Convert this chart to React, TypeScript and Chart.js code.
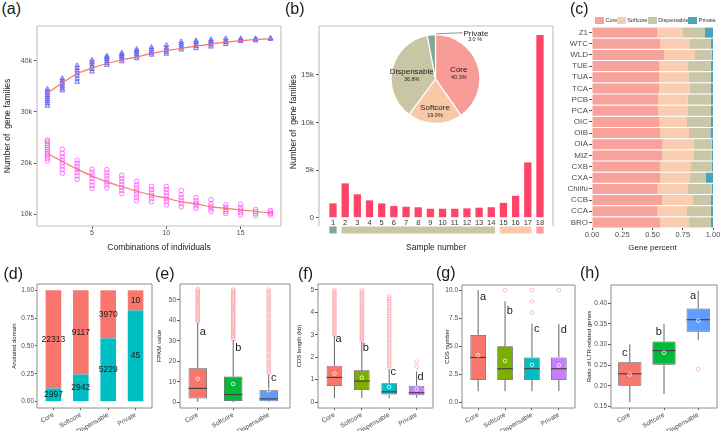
import React, { useEffect, useRef } from "react";
import { Chart, registerables } from "chart.js";

Chart.register(...registerables);

const FONT = "'Liberation Sans', Arial, Helvetica, sans-serif";
const TICK_GREY = "#4d4d4d";
const INK = "#1a1a1a";

/* ---------- (a) pan / core gene family curves ---------- */
const combinations = [2, 3, 4, 5, 6, 7, 8, 9, 10, 11, 12, 13, 14, 15, 16, 17];
const panFamiliesK = [
  [31.2, 31.7, 32.1, 32.5, 32.9, 33.3, 33.7, 34.1, 34.5],
  [34.2, 34.6, 35.0, 35.4, 35.8, 36.2, 36.6],
  [35.9, 36.5, 37.1, 37.6, 38.1, 38.6, 39.1],
  [37.9, 38.4, 38.9, 39.4, 39.8, 40.2],
  [39.2, 39.6, 40.0, 40.4, 40.7, 41.0],
  [39.9, 40.3, 40.7, 41.0, 41.3, 41.6],
  [40.5, 40.9, 41.3, 41.7, 42.0, 42.3],
  [41.2, 41.5, 41.9, 42.3, 42.7],
  [41.4, 41.8, 42.2, 42.6, 43.1],
  [42.2, 42.6, 43.0, 43.4, 43.8],
  [42.5, 42.9, 43.3, 43.7, 44.0],
  [42.8, 43.2, 43.6, 43.9, 44.2],
  [43.3, 43.7, 44.0, 44.4],
  [43.9, 44.1, 44.4],
  [44.0, 44.25, 44.4],
  [44.3, 44.5],
];
const coreFamiliesK = [
  [20.4, 20.9, 21.4, 21.8, 22.2, 22.6, 23.0, 23.4, 23.8, 24.2, 24.5],
  [18.0, 18.7, 19.4, 20.0, 20.6, 21.2, 21.9, 22.7],
  [16.8, 17.5, 18.1, 18.7, 19.3, 19.9, 20.5],
  [15.0, 15.6, 16.3, 17.0, 17.6, 18.2, 18.8],
  [15.1, 15.7, 16.3, 16.9, 17.5, 18.1, 18.7],
  [14.0, 14.6, 15.2, 15.8, 16.4, 17.0, 17.6],
  [12.6, 13.3, 13.9, 14.5, 15.1, 15.7, 16.4],
  [12.4, 13.0, 13.6, 14.2, 14.8, 15.4],
  [11.8, 12.4, 13.0, 13.6, 14.2, 14.8, 15.4],
  [11.4, 12.0, 12.6, 13.2, 13.8, 14.6],
  [11.1, 11.6, 12.1, 12.6, 13.2],
  [10.5, 11.0, 11.5, 12.0, 12.8],
  [10.1, 10.5, 10.9, 11.3, 11.8],
  [9.8, 10.3, 10.8, 11.3, 11.9],
  [9.7, 10.1, 10.5, 10.9],
  [9.8, 10.1, 10.4, 10.7],
];
const panFitK = [33.7, 35.7, 37.5, 38.6, 39.5, 40.2, 40.8, 41.5, 42.0, 42.5, 42.9, 43.3, 43.7, 44.0, 44.2, 44.4];
const coreFitK = [21.9, 20.3, 18.8, 17.45, 16.3, 15.35, 14.5, 13.7, 13.1, 12.4, 12.0, 11.4, 11.1, 10.8, 10.5, 10.2];
const aYTicks = [10000, 20000, 30000, 40000];
const aXTicks = [5, 10, 15];

/* ---------- (b) family frequency + pie ---------- */
const sampleNumbers = [1, 2, 3, 4, 5, 6, 7, 8, 9, 10, 11, 12, 13, 14, 15, 16, 17, 18];
const familyCounts = [1500, 3600, 2450, 1820, 1500, 1220, 1150, 1090, 940, 940, 940, 980, 1050, 1100, 1550, 2300, 5800, 19150];
const bYTicks = [0, 5000, 10000, 15000];
const pieNames = ["Core", "Softcore", "Dispensable", "Private"];
const piePercent = [40.3, 19.9, 36.8, 3.0];
const pieColors = ["#F89C97", "#F8C9A6", "#C9C6A6", "#7DAA96"];
const stripStart = [1, 2, 15, 18];
const stripEnd = [1, 14, 17, 18];
const stripColors = ["#7FA898", "#C9C6A6", "#F8CAAA", "#F89C9F"];

/* ---------- (c) per-accession composition ---------- */
const accessions = ["Z1", "WTC", "WLD", "TUE", "TUA", "TCA", "PCB", "PCA", "OIC", "OIB", "OIA", "MIZ", "CXB", "CXA", "Chiifu", "CCB", "CCA", "BRO"];
const coreShare = [0.537, 0.562, 0.595, 0.554, 0.554, 0.554, 0.545, 0.548, 0.554, 0.562, 0.584, 0.579, 0.562, 0.562, 0.543, 0.579, 0.537, 0.562];
const softShare = [0.215, 0.242, 0.256, 0.239, 0.245, 0.253, 0.246, 0.245, 0.231, 0.24, 0.256, 0.258, 0.256, 0.248, 0.25, 0.256, 0.248, 0.24];
const dispShare = [0.182, 0.179, 0.138, 0.188, 0.182, 0.176, 0.192, 0.19, 0.198, 0.176, 0.149, 0.152, 0.171, 0.132, 0.196, 0.148, 0.198, 0.181];
const privShare = [0.066, 0.017, 0.011, 0.019, 0.019, 0.017, 0.017, 0.017, 0.017, 0.022, 0.011, 0.011, 0.011, 0.058, 0.011, 0.017, 0.017, 0.017];
const cTicks = [0, 0.25, 0.5, 0.75, 1];
const cColors = ["#F9A19B", "#F9CDB0", "#C9C7A8", "#4DA3B9"];

/* ---------- (d) annotated domain ---------- */
const groups4 = ["Core", "Softcore", "Dispensable", "Private"];
const groups3 = ["Core", "Softcore", "Dispensable"];
const annotatedCounts = [2997, 2942, 5229, 45];
const unannotatedCounts = [22313, 9117, 3970, 10];
const dTicks = [0, 0.25, 0.5, 0.75, 1];

/* ---------- (e) FPKM ---------- */
const eLo = [0.2, 0.1, 0.1];
const eQ1 = [1.9, 0.7, 0.5];
const eMed = [6.8, 3.8, 1.7];
const eQ3 = [16.7, 12.6, 5.9];
const eHi = [38.9, 30.5, 13.6];
const eMean = [11.5, 9.0, 5.9];
const eOutliers = [
  [39.2, 40.1, 41.0, 41.9, 42.8, 43.7, 44.6, 45.5, 46.4, 47.3, 48.2, 49.1, 50.0, 50.9, 51.8, 52.7, 53.6, 54.5, 55.3],
  [30.8, 31.7, 32.6, 33.5, 34.4, 35.3, 36.2, 37.1, 38.0, 38.9, 39.8, 40.7, 41.6, 42.5, 43.4, 44.3, 45.2, 46.1, 47.0, 47.9, 48.8, 49.7, 50.6, 51.5, 52.4, 53.3, 54.2, 55.0],
  [14.0, 15.1, 16.3, 17.4, 18.6, 19.7, 20.9, 22.0, 23.2, 24.3, 25.5, 26.6, 27.8, 28.9, 30.1, 31.2, 32.4, 33.5, 34.7, 35.8, 37.0, 38.1, 39.3, 40.4, 41.6, 42.7, 43.9, 45.0, 46.2, 47.3, 48.5, 49.6, 50.8, 51.9, 53.1, 54.2, 55.0],
];
const eLetters = ["a", "b", "c"];
const eLetterY = [34.5, 26.7, 12.0];
const eTicks = [0, 10, 20, 30, 40, 50];

/* ---------- (f) CDS length ---------- */
const fLo = [0.17, 0.19, 0.17, 0.2];
const fQ1 = [0.72, 0.54, 0.34, 0.31];
const fMed = [1.1, 0.94, 0.46, 0.42];
const fQ3 = [1.62, 1.42, 0.84, 0.73];
const fHi = [2.97, 2.7, 1.48, 1.36];
const fMean = [1.28, 1.09, 0.68, 0.58];
const fOutliers = [
  [3.0, 3.09, 3.18, 3.27, 3.36, 3.45, 3.54, 3.63, 3.72, 3.81, 3.9, 3.99, 4.08, 4.17, 4.26, 4.35, 4.44, 4.53, 4.62, 4.71, 4.8, 4.89, 4.98],
  [2.72, 2.81, 2.9, 2.99, 3.08, 3.17, 3.26, 3.35, 3.44, 3.53, 3.62, 3.71, 3.8, 3.89, 3.98, 4.07, 4.16, 4.25, 4.34, 4.43, 4.52, 4.61, 4.7, 4.79, 4.88, 4.97],
  [1.52, 1.63, 1.74, 1.85, 1.96, 2.07, 2.18, 2.29, 2.4, 2.51, 2.62, 2.73, 2.84, 2.95, 3.06, 3.17, 3.28, 3.39, 3.5, 3.61, 3.72, 3.83, 3.94, 4.05, 4.16, 4.27, 4.38, 4.49, 4.6, 4.71],
  [1.58, 1.8],
];
const fLetters = ["a", "b", "c", "d"];
const fLetterY = [2.82, 2.4, 1.36, 1.13];
const fTicks = [0, 1, 2, 3, 4, 5];

/* ---------- (g) CDS number ---------- */
const gLo = [1, 1, 1, 1];
const gQ1 = [2, 2, 2, 2];
const gMed = [4, 3, 3, 3];
const gQ3 = [6, 5, 4, 4];
const gHi = [10, 9, 7, 7];
const gMean = [4.2, 3.7, 3.35, 3.3];
const gOutliers = [[], [10], [8, 9, 10], [10]];
const gLetters = ["a", "b", "c", "d"];
const gLetterY = [9.43, 8.18, 6.54, 6.46];
const gTicks = [0, 2.5, 5, 7.5, 10];

/* ---------- (h) LTR-related ratio ---------- */
const hLo = [0.16, 0.18, 0.31];
const hQ1 = [0.2, 0.251, 0.331];
const hMed = [0.229, 0.285, 0.36];
const hQ3 = [0.257, 0.307, 0.387];
const hHi = [0.3, 0.35, 0.43];
const hMean = [0.227, 0.28, 0.358];
const hOutliers = [[], [], [0.24]];
const hLetters = ["c", "b", "a"];
const hLetterY = [0.28, 0.329, 0.417];
const hTicks = [0.15, 0.2, 0.25, 0.3, 0.35, 0.4];

/* ---------- helpers ---------- */
function frameLayout(cv: number[], pl: number[]) {
  const [cx, cy, cw, ch] = cv;
  const [L, T, R, B] = pl;
  return { padding: { left: 0, top: T - cy, right: cx + cw - R, bottom: 0 }, yW: L - cx, xH: cy + ch - B };
}

function baseOptions(lay: any) {
  return {
    responsive: false,
    animation: false,
    devicePixelRatio: 1,
    events: [],
    layout: { padding: lay.padding, autoPadding: false },
    plugins: { legend: { display: false }, tooltip: { enabled: false }, title: { display: false } },
  };
}

function xAxis(o: any) {
  return {
    type: "linear",
    position: "bottom",
    min: o.min,
    max: o.max,
    offset: false,
    stacked: !!o.stacked,
    afterBuildTicks: (s: any) => {
      s.ticks = o.ticks.map((v: number) => ({ value: v }));
    },
    afterFit: (s: any) => {
      s.height = o.h;
      s.paddingLeft = 0;
      s.paddingRight = 0;
    },
    ticks: {
      autoSkip: false,
      maxRotation: o.rot || 0,
      minRotation: o.rot || 0,
      padding: o.pad ?? 1,
      color: o.color || TICK_GREY,
      font: { family: FONT, size: o.fontSize },
      callback: o.fmt,
    },
    grid: { display: true, drawOnChartArea: false, drawTicks: o.tickLen > 0, tickLength: o.tickLen, tickColor: "#555", offset: false },
    border: { display: false },
    title: o.title
      ? { display: true, text: o.title, color: INK, font: { family: FONT, size: o.titleSize }, padding: 0 }
      : { display: false },
  };
}

function yAxis(o: any) {
  return {
    type: "linear",
    position: "left",
    min: o.min,
    max: o.max,
    stacked: !!o.stacked,
    afterBuildTicks: (s: any) => {
      s.ticks = o.ticks.map((v: number) => ({ value: v }));
    },
    afterFit: (s: any) => {
      s.width = o.w;
      s.paddingTop = 0;
      s.paddingBottom = 0;
    },
    ticks: {
      autoSkip: false,
      padding: o.pad ?? 2,
      color: TICK_GREY,
      font: { family: FONT, size: o.fontSize },
      callback: o.fmt,
    },
    grid: { display: true, drawOnChartArea: false, drawTicks: true, tickLength: o.tickLen ?? 3, tickColor: "#555" },
    border: { display: false },
    title: o.title
      ? { display: true, text: o.title, color: INK, font: { family: FONT, size: o.titleSize }, padding: 0 }
      : { display: false },
  };
}

function framePlugin(color: string, width: number, sides = "ltrb", extendBottom = 0) {
  return {
    id: "frame",
    afterDraw(chart: any) {
      const { left, top, right, bottom } = chart.chartArea;
      const b = bottom + extendBottom;
      const ctx = chart.ctx;
      ctx.save();
      ctx.strokeStyle = color;
      ctx.lineWidth = width;
      ctx.beginPath();
      if (sides.includes("l")) { ctx.moveTo(left, b); ctx.lineTo(left, top); }
      if (sides.includes("t")) { ctx.moveTo(left, top); ctx.lineTo(right, top); }
      if (sides.includes("r")) { ctx.moveTo(right, top); ctx.lineTo(right, b); }
      if (sides.includes("b")) { ctx.moveTo(left, b); ctx.lineTo(right, b); }
      ctx.stroke();
      ctx.restore();
    },
  };
}

function ChartCanvas({ rect, build }: { rect: number[]; build: () => any }) {
  const ref = useRef<HTMLCanvasElement | null>(null);
  useEffect(() => {
    if (!ref.current) return;
    const chart = new Chart(ref.current, build());
    return () => chart.destroy();
  }, []);
  const [x, y, w, h] = rect;
  return (
    <div style={{ position: "absolute", left: x, top: y, width: w, height: h }}>
      <canvas ref={ref} width={w} height={h} style={{ display: "block", width: w, height: h }} />
    </div>
  );
}

/* ---------- panel (a) ---------- */
const A_CANVAS = [3, 18, 287, 235];
const A_PLOT = [37, 26, 281, 226];
function buildA() {
  const lay = frameLayout(A_CANVAS, A_PLOT);
  const pan = combinations.flatMap((c, i) => panFamiliesK[i].map((v) => ({ x: c, y: v * 1000 })));
  const core = combinations.flatMap((c, i) => coreFamiliesK[i].map((v) => ({ x: c, y: v * 1000 })));
  return {
    type: "scatter",
    data: {
      datasets: [
        { type: "line", data: combinations.map((c, i) => ({ x: c, y: panFitK[i] * 1000 })), borderColor: "#F8766D", borderWidth: 1.2, pointRadius: 0, cubicInterpolationMode: "monotone", fill: false },
        { type: "line", data: combinations.map((c, i) => ({ x: c, y: coreFitK[i] * 1000 })), borderColor: "#F8766D", borderWidth: 1.2, pointRadius: 0, cubicInterpolationMode: "monotone", fill: false },
        { data: pan, pointStyle: "triangle", pointRadius: 2.7, pointBorderColor: "rgba(80,80,240,0.85)", pointBackgroundColor: "rgba(110,110,240,0.15)", pointBorderWidth: 0.9 },
        { data: core, pointStyle: "circle", pointRadius: 2.3, pointBorderColor: "rgba(255,50,255,0.8)", pointBackgroundColor: "rgba(0,0,0,0)", pointBorderWidth: 0.8 },
      ],
    },
    options: {
      ...baseOptions(lay),
      scales: {
        x: xAxis({ min: 1.3, max: 17.71, ticks: aXTicks, fmt: (v: number) => String(v), h: lay.xH, fontSize: 7, tickLen: 3, pad: 0, title: "Combinations of individuals", titleSize: 8.5 }),
        y: yAxis({ min: 7650, max: 46860, ticks: aYTicks, fmt: (v: number) => v / 1000 + "k", w: lay.yW, fontSize: 7, title: "Number of  gene families", titleSize: 8.5 }),
      },
    },
    plugins: [framePlugin("#c4c4c4", 1.2)],
  };
}

/* ---------- panel (b) ---------- */
const B_CANVAS = [289, 18, 269, 235];
const B_PLOT = [319, 26, 553, 218];
const stripPlugin = {
  id: "strip",
  afterDraw(chart: any) {
    const { ctx, chartArea } = chart;
    const x = chart.scales.x;
    ctx.save();
    stripStart.forEach((s, i) => {
      const x0 = x.getPixelForValue(s - 0.3);
      const x1 = x.getPixelForValue(stripEnd[i] + 0.3);
      ctx.fillStyle = stripColors[i];
      ctx.fillRect(x0, chartArea.bottom + 8.5, x1 - x0, 7);
    });
    ctx.restore();
  },
};
function buildB() {
  const lay = frameLayout(B_CANVAS, B_PLOT);
  return {
    type: "bar",
    data: {
      datasets: [
        { data: sampleNumbers.map((s, i) => ({ x: s, y: familyCounts[i] })), backgroundColor: "#FF4468", borderWidth: 0, barPercentage: 0.6, categoryPercentage: 1 },
      ],
    },
    options: {
      ...baseOptions(lay),
      scales: {
        x: xAxis({ min: -0.15, max: 19.07, ticks: sampleNumbers, fmt: (v: number) => String(v), h: lay.xH, fontSize: 7.5, tickLen: 0, pad: 0, color: "#333", title: "Sample number", titleSize: 8.5 }),
        y: yAxis({ min: -31, max: 20095, ticks: bYTicks, fmt: (v: number) => (v === 0 ? "0" : v / 1000 + "k"), w: lay.yW, fontSize: 8, title: "Number of  gene families", titleSize: 8.5 }),
      },
    },
    plugins: [framePlugin("#c4c4c4", 1.2, "ltr", 8), stripPlugin],
  };
}

const PIE_CANVAS = [380, 28, 150, 102];
const pieLabelRadius = [0.55, 0.69, 0.55];
const pieLabelPlugin = {
  id: "pieLabels",
  afterDraw(chart: any) {
    const { ctx } = chart;
    const arcs = chart.getDatasetMeta(0).data;
    ctx.save();
    arcs.forEach((arc: any, i: number) => {
      const p = arc.getProps(["x", "y", "startAngle", "endAngle", "outerRadius"], true);
      const mid = (p.startAngle + p.endAngle) / 2;
      ctx.fillStyle = "#222";
      if (i < 3) {
        const r = p.outerRadius * pieLabelRadius[i];
        const cx = p.x + Math.cos(mid) * r;
        const cy = p.y + Math.sin(mid) * r;
        ctx.textAlign = "center";
        ctx.textBaseline = "middle";
        ctx.font = `8px ${FONT}`;
        ctx.fillText(pieNames[i], cx, cy - 1.5);
        ctx.font = `5.5px ${FONT}`;
        ctx.fillText(piePercent[i].toFixed(1) + "%", cx, cy + 5.8);
      } else {
        const sx = p.x + Math.cos(mid) * (p.outerRadius + 1);
        const sy = p.y + Math.sin(mid) * (p.outerRadius + 1);
        ctx.strokeStyle = "#666";
        ctx.lineWidth = 0.7;
        ctx.beginPath();
        ctx.moveTo(sx + 5, sy);
        ctx.lineTo(p.x + 27, p.y - 46.3);
        ctx.stroke();
        ctx.textAlign = "left";
        ctx.textBaseline = "middle";
        ctx.font = `8px ${FONT}`;
        ctx.fillText(pieNames[i], p.x + 28, p.y - 45.7);
        ctx.font = `5.5px ${FONT}`;
        ctx.fillText(piePercent[i].toFixed(1) + " %", p.x + 32.5, p.y - 39.5);
      }
    });
    ctx.restore();
  },
};
function buildPie() {
  return {
    type: "pie",
    data: { labels: pieNames, datasets: [{ data: piePercent, backgroundColor: pieColors, borderColor: "#ffffff", borderWidth: 1.2 }] },
    options: {
      responsive: false,
      animation: false,
      devicePixelRatio: 1,
      events: [],
      layout: { padding: { left: 10.5, right: 49.5, top: 6, bottom: 6 } },
      plugins: { legend: { display: false }, tooltip: { enabled: false } },
    },
    plugins: [pieLabelPlugin],
  };
}

/* ---------- panel (c) ---------- */
const C_CANVAS = [545, 24, 175, 229];
const C_PLOT = [592, 27, 713, 228];
function buildC() {
  const lay = frameLayout(C_CANVAS, C_PLOT);
  const shares = [coreShare, softShare, dispShare, privShare];
  return {
    type: "bar",
    data: {
      labels: accessions,
      datasets: shares.map((d, i) => ({ label: pieNames[i], data: d, backgroundColor: cColors[i], borderWidth: 0, barPercentage: 0.9, categoryPercentage: 1 })),
    },
    options: {
      ...baseOptions(lay),
      indexAxis: "y",
      scales: {
        x: xAxis({ min: 0, max: 1, stacked: true, ticks: cTicks, fmt: (v: number) => v.toFixed(2), h: lay.xH, fontSize: 7.5, tickLen: 2, pad: 0, title: "Gene percent", titleSize: 8 }),
        y: {
          type: "category",
          stacked: true,
          afterFit: (s: any) => {
            s.width = lay.yW;
            s.paddingTop = 0;
            s.paddingBottom = 0;
          },
          ticks: { autoSkip: false, padding: 1, color: TICK_GREY, font: { family: FONT, size: 8 } },
          grid: { display: true, drawOnChartArea: false, drawTicks: true, tickLength: 3, tickColor: "#555", offset: false },
          border: { display: false },
        },
      },
    },
  };
}

/* ---------- panel (d) ---------- */
const D_CANVAS = [11, 278, 147, 153];
const D_PLOT = [37, 284, 152, 408];
const countLabelPlugin = {
  id: "countLabels",
  afterDatasetsDraw(chart: any) {
    const { ctx } = chart;
    const sets = [annotatedCounts, unannotatedCounts];
    ctx.save();
    ctx.fillStyle = INK;
    ctx.font = `8.5px ${FONT}`;
    ctx.textAlign = "center";
    ctx.textBaseline = "middle";
    sets.forEach((counts, di) => {
      chart.getDatasetMeta(di).data.forEach((el: any, i: number) => {
        const p = el.getProps(["x", "y", "base"], true);
        ctx.fillText(String(counts[i]), p.x, (p.y + p.base) / 2);
      });
    });
    ctx.restore();
  },
};
function buildD() {
  const lay = frameLayout(D_CANVAS, D_PLOT);
  const total = annotatedCounts.map((a, i) => a + unannotatedCounts[i]);
  return {
    type: "bar",
    data: {
      datasets: [
        { data: annotatedCounts.map((a, i) => ({ x: i + 1, y: a / total[i] })), backgroundColor: "#00BFC4", borderWidth: 0, barPercentage: 0.57, categoryPercentage: 1 },
        { data: unannotatedCounts.map((u, i) => ({ x: i + 1, y: u / total[i] })), backgroundColor: "#F8766D", borderWidth: 0, barPercentage: 0.57, categoryPercentage: 1 },
      ],
    },
    options: {
      ...baseOptions(lay),
      scales: {
        x: xAxis({ min: 0.4, max: 4.6, stacked: true, ticks: [1, 2, 3, 4], fmt: (v: number) => groups4[v - 1], h: lay.xH, fontSize: 6.5, tickLen: 2, pad: 1, rot: 30 }),
        y: yAxis({ min: -0.057, max: 1.057, stacked: true, ticks: dTicks, fmt: (v: number) => v.toFixed(2), w: lay.yW, fontSize: 6.5, tickLen: 2, pad: 1, title: "Anotated domain", titleSize: 6 }),
      },
    },
    plugins: [countLabelPlugin, framePlugin("#8c8c8c", 1)],
  };
}

/* ---------- box panels (e)-(h) ---------- */
function boxPlugin(o: any) {
  return {
    id: "boxExtras",
    beforeDatasetsDraw(chart: any) {
      const { ctx } = chart;
      const x = chart.scales.x;
      const y = chart.scales.y;
      ctx.save();
      ctx.strokeStyle = "#555";
      ctx.lineWidth = 0.9;
      o.q1.forEach((q: number, i: number) => {
        const px = x.getPixelForValue(i + 1);
        ctx.beginPath();
        ctx.moveTo(px, y.getPixelForValue(o.lo[i]));
        ctx.lineTo(px, y.getPixelForValue(q));
        ctx.moveTo(px, y.getPixelForValue(o.q3[i]));
        ctx.lineTo(px, y.getPixelForValue(o.hi[i]));
        ctx.stroke();
      });
      ctx.restore();
    },
    afterDatasetsDraw(chart: any) {
      const { ctx } = chart;
      const x = chart.scales.x;
      const y = chart.scales.y;
      ctx.save();
      o.med.forEach((m: number, i: number) => {
        const x0 = x.getPixelForValue(i + 1 - o.boxW / 2);
        const x1 = x.getPixelForValue(i + 1 + o.boxW / 2);
        const py = y.getPixelForValue(m);
        ctx.strokeStyle = "#444";
        ctx.lineWidth = 1.2;
        ctx.beginPath();
        ctx.moveTo(x0, py);
        ctx.lineTo(x1, py);
        ctx.stroke();
        ctx.strokeStyle = "#ffffff";
        ctx.lineWidth = 0.8;
        ctx.beginPath();
        ctx.arc(x.getPixelForValue(i + 1), y.getPixelForValue(o.mean[i]), 1.8, 0, Math.PI * 2);
        ctx.stroke();
      });
      ctx.fillStyle = INK;
      ctx.font = `11px ${FONT}`;
      ctx.textAlign = "center";
      ctx.textBaseline = "middle";
      o.letters.forEach((t: string, i: number) => {
        ctx.fillText(t, x.getPixelForValue(i + 1 + o.letterDx), y.getPixelForValue(o.letterY[i]));
      });
      ctx.restore();
    },
  };
}

function buildBox(o: any) {
  const lay = frameLayout(o.canvas, o.plot);
  return {
    type: "bar",
    data: {
      datasets: [
        {
          type: "scatter",
          data: o.outliers.flatMap((arr: number[], i: number) => arr.map((v) => ({ x: i + 1, y: v }))),
          pointRadius: 1.9,
          pointBorderColor: "rgba(248,120,130,0.6)",
          pointBackgroundColor: "rgba(0,0,0,0)",
          pointBorderWidth: 0.8,
        },
        {
          type: "bar",
          data: o.q1.map((q: number, i: number) => ({ x: i + 1, y: [q, o.q3[i]] })),
          backgroundColor: o.colors,
          borderColor: "#555",
          borderWidth: 0.8,
          borderSkipped: false,
          barPercentage: o.boxW,
          categoryPercentage: 1,
        },
      ],
    },
    options: {
      ...baseOptions(lay),
      scales: {
        x: xAxis({ min: o.xMin, max: o.xMax, ticks: o.cats.map((_: string, i: number) => i + 1), fmt: (v: number) => o.cats[v - 1], h: lay.xH, fontSize: 6.5, tickLen: 2, pad: 1, rot: 30 }),
        y: yAxis({ min: o.yMin, max: o.yMax, ticks: o.yTicks, fmt: o.yFmt, w: lay.yW, fontSize: 6.5, tickLen: 3, pad: 1, title: o.title, titleSize: 6 }),
      },
    },
    plugins: [boxPlugin(o), framePlugin("#8c8c8c", 1)],
  };
}

const E_SPEC = {
  canvas: [156, 278, 140, 153], plot: [180, 284, 290, 408], cats: groups3,
  lo: eLo, q1: eQ1, med: eMed, q3: eQ3, hi: eHi, mean: eMean, outliers: eOutliers,
  letters: eLetters, letterY: eLetterY, letterDx: 0.14, boxW: 0.52, xMin: 0.5, xMax: 3.6,
  yMin: -2.75, yMax: 57.75, yTicks: eTicks, yFmt: (v: number) => String(v), title: "FPKM value",
  colors: ["#F8766D", "#00BA38", "#619CFF"],
};
const F_SPEC = {
  canvas: [296, 278, 142, 153], plot: [318, 284, 433, 408], cats: groups4,
  lo: fLo, q1: fQ1, med: fMed, q3: fQ3, hi: fHi, mean: fMean, outliers: fOutliers,
  letters: fLetters, letterY: fLetterY, letterDx: 0.15, boxW: 0.57, xMin: 0.4, xMax: 4.6,
  yMin: -0.26, yMax: 5.26, yTicks: fTicks, yFmt: (v: number) => String(v), title: "CDS length (kb)",
  colors: ["#F8766D", "#7CAE00", "#00BFC4", "#C77CFF"],
};
const G_SPEC = {
  canvas: [444, 278, 137, 153], plot: [462, 285, 575, 408], cats: groups4,
  lo: gLo, q1: gQ1, med: gMed, q3: gQ3, hi: gHi, mean: gMean, outliers: gOutliers,
  letters: gLetters, letterY: gLetterY, letterDx: 0.18, boxW: 0.58, xMin: 0.4, xMax: 4.6,
  yMin: -0.5, yMax: 10.46, yTicks: gTicks, yFmt: (v: number) => v.toFixed(1), title: "CDS number",
  colors: ["#F8766D", "#7CAE00", "#00BFC4", "#C77CFF"],
};
const H_SPEC = {
  canvas: [586, 278, 134, 153], plot: [611, 285, 717, 408], cats: groups3,
  lo: hLo, q1: hQ1, med: hMed, q3: hQ3, hi: hHi, mean: hMean, outliers: hOutliers,
  letters: hLetters, letterY: hLetterY, letterDx: -0.15, boxW: 0.68, xMin: 0.45, xMax: 3.55,
  yMin: 0.146, yMax: 0.444, yTicks: hTicks, yFmt: (v: number) => v.toFixed(2), title: "Ratio of LTR-related genes",
  colors: ["#F8766D", "#00BA38", "#619CFF"],
};

/* ---------- page ---------- */
const panelTags = [
  { t: "(a)", x: 1.5, y: 0.5 },
  { t: "(b)", x: 285, y: 0.5 },
  { t: "(c)", x: 570, y: 0.5 },
  { t: "(d)", x: 3.5, y: 265.5 },
  { t: "(e)", x: 155, y: 265.5 },
  { t: "(f)", x: 298, y: 266 },
  { t: "(g)", x: 436, y: 264.5 },
  { t: "(h)", x: 580, y: 264.5 },
];
const legendBoxX = [595, 616.7, 647.7, 688.3];

export default function App() {
  return (
    <div style={{ position: "fixed", left: 0, top: 0, width: 720, height: 431, background: "#ffffff", overflow: "hidden" }}>
      <ChartCanvas rect={A_CANVAS} build={buildA} />
      <ChartCanvas rect={B_CANVAS} build={buildB} />
      <ChartCanvas rect={PIE_CANVAS} build={buildPie} />
      <ChartCanvas rect={C_CANVAS} build={buildC} />
      <ChartCanvas rect={D_CANVAS} build={buildD} />
      <ChartCanvas rect={E_SPEC.canvas} build={() => buildBox(E_SPEC)} />
      <ChartCanvas rect={F_SPEC.canvas} build={() => buildBox(F_SPEC)} />
      <ChartCanvas rect={G_SPEC.canvas} build={() => buildBox(G_SPEC)} />
      <ChartCanvas rect={H_SPEC.canvas} build={() => buildBox(H_SPEC)} />
      {pieNames.map((n, i) => (
        <React.Fragment key={n}>
          <div style={{ position: "absolute", left: legendBoxX[i], top: 17.3, width: 9, height: 7, background: cColors[i] }} />
          <div style={{ position: "absolute", left: legendBoxX[i] + 10.5, top: 17, fontFamily: FONT, fontSize: 5.5, lineHeight: "7.5px", color: "#333", whiteSpace: "nowrap" }}>{n}</div>
        </React.Fragment>
      ))}
      {panelTags.map((p) => (
        <div key={p.t} style={{ position: "absolute", left: p.x, top: p.y, fontFamily: FONT, fontSize: 16, lineHeight: "16px", color: INK, whiteSpace: "nowrap" }}>{p.t}</div>
      ))}
    </div>
  );
}
